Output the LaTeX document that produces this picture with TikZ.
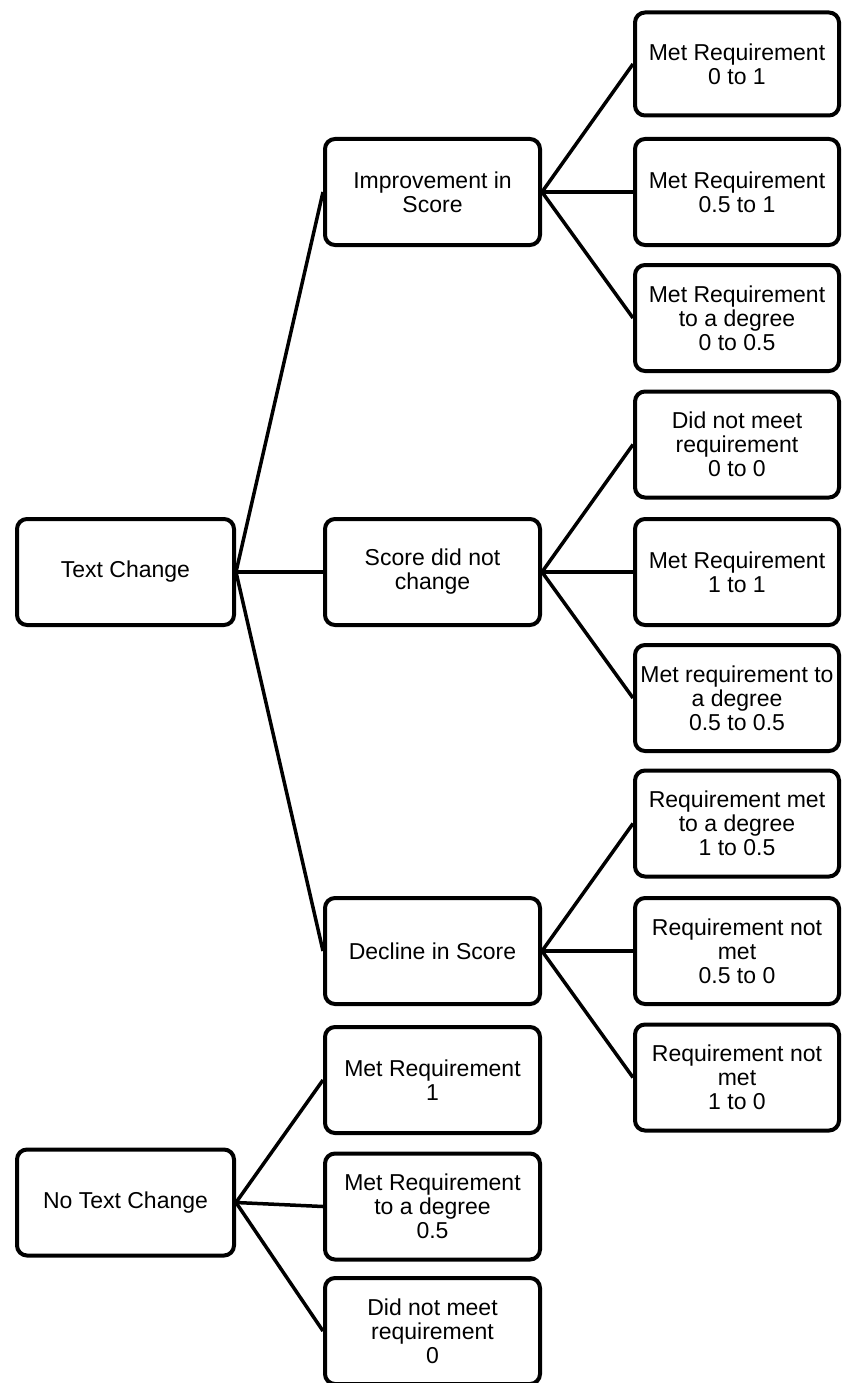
\documentclass[tikz,border=0pt]{standalone}
\usepackage{fontspec}
\setmainfont{Liberation Sans}

\begin{document}
\begin{tikzpicture}[
  x=1pt, y=-1pt,
  box/.style={draw, line width=4pt, rounded corners=10pt, align=center,
    minimum height=106pt, inner sep=0pt,
    font=\fontsize{23}{24}\selectfont},
  left box/.style={box, minimum width=217pt},
  mid box/.style={box, minimum width=215pt},
  right box/.style={box, minimum width=204pt},
  link/.style={line width=3.5pt},
]
\useasboundingbox (0,0) rectangle (844,1383);

\node[left box] (txt) at (125.5,572) {Text Change};
\node[left box] (notxt) at (125.5,1202.5) {No Text Change};

\node[mid box] (up) at (432.5,192) {Improvement in\\Score};
\node[mid box] (same) at (432.5,572) {Score did not\\change};
\node[mid box] (down) at (432.5,951) {Decline in Score};
\node[mid box] (keep1) at (432.5,1080) {Met Requirement\\1};
\node[mid box] (keep2) at (432.5,1206.5) {Met Requirement\\to a degree\\0.5};
\node[mid box] (keep3) at (432.5,1331) {Did not meet\\requirement\\0};

\node[right box, minimum height=103pt] (up1) at (737,64) {Met Requirement\\0 to 1};
\node[right box] (up2) at (737,192) {Met Requirement\\0.5 to 1};
\node[right box] (up3) at (737,318) {Met Requirement\\to a degree\\0 to 0.5};
\node[right box] (same1) at (737,444.5) {Did not meet\\requirement\\0 to 0};
\node[right box] (same2) at (737,572) {Met Requirement\\1 to 1};
\node[right box] (same3) at (737,698) {Met requirement to\\a degree\\0.5 to 0.5};
\node[right box] (down1) at (737,823.5) {Requirement met\\to a degree\\1 to 0.5};
\node[right box] (down2) at (737,951) {Requirement not\\met\\0.5 to 0};
\node[right box] (down3) at (737,1077.5) {Requirement not\\met\\1 to 0};

\draw[link] (txt.east) -- (up.west);
\draw[link] (txt.east) -- (same.west);
\draw[link] (txt.east) -- (down.west);
\draw[link] (notxt.east) -- (keep1.west);
\draw[link] (notxt.east) -- (keep2.west);
\draw[link] (notxt.east) -- (keep3.west);

\draw[link] (up.east) -- (up1.west);
\draw[link] (up.east) -- (up2.west);
\draw[link] (up.east) -- (up3.west);
\draw[link] (same.east) -- (same1.west);
\draw[link] (same.east) -- (same2.west);
\draw[link] (same.east) -- (same3.west);
\draw[link] (down.east) -- (down1.west);
\draw[link] (down.east) -- (down2.west);
\draw[link] (down.east) -- (down3.west);
\end{tikzpicture}
\end{document}
